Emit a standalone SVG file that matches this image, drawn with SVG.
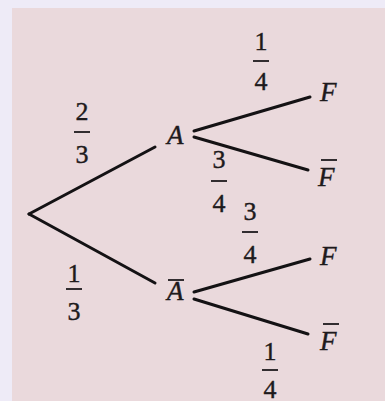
<svg xmlns="http://www.w3.org/2000/svg" width="385" height="401" viewBox="0 0 385 401">
<style>
.lbl{font-family:'Liberation Serif','DejaVu Serif',serif;font-style:italic;font-size:27px;fill:#1e1a1c;stroke:#1e1a1c;stroke-width:0.4}
.num{font-family:'Liberation Serif','DejaVu Serif',serif;font-size:26px;fill:#1e1a1c;text-anchor:middle;stroke:#1e1a1c;stroke-width:0.4}
.edge{stroke:#141214;stroke-width:3;fill:none;stroke-linecap:round}
.bar{stroke:#1e1a1c;stroke-width:1.8}
</style>
<rect x="0" y="0" width="385" height="401" fill="#eeebf7"/>
<rect x="12" y="8" width="373" height="393" fill="#ead9dc"/>
<g id="connectors">
<line class="edge" x1="29" y1="214" x2="155" y2="147"/>
<line class="edge" x1="29" y1="214" x2="155" y2="283"/>
<line class="edge" x1="194" y1="131" x2="310" y2="97"/>
<line class="edge" x1="194" y1="137" x2="308" y2="170"/>
<line class="edge" x1="194" y1="292" x2="310" y2="259"/>
<line class="edge" x1="194" y1="299" x2="308" y2="334"/>
</g>
<g id="node-A"><text class="lbl" x="167" y="144">A</text></g>
<g id="node-Abar"><text class="lbl" x="167" y="300">A</text><line class="bar" x1="168" y1="280" x2="184" y2="280"/></g>
<g id="node-F1"><text class="lbl" x="320" y="101">F</text></g>
<g id="node-Fbar1"><text class="lbl" x="318" y="186">F</text><line class="bar" x1="321" y1="160" x2="337" y2="160"/></g>
<g id="node-F2"><text class="lbl" x="320" y="265">F</text></g>
<g id="node-Fbar2"><text class="lbl" x="320" y="350">F</text><line class="bar" x1="323" y1="324" x2="339" y2="324"/></g>
<g id="p-2-3"><text class="num" x="82" y="120">2</text><line class="bar" x1="74" y1="132" x2="90" y2="132"/><text class="num" x="82" y="163">3</text></g>
<g id="p-1-3"><text class="num" x="74" y="282">1</text><line class="bar" x1="66" y1="289" x2="82" y2="289"/><text class="num" x="74" y="320">3</text></g>
<g id="p-1-4a"><text class="num" x="261" y="50">1</text><line class="bar" x1="253" y1="61" x2="269" y2="61"/><text class="num" x="261" y="90">4</text></g>
<g id="p-3-4a"><text class="num" x="219" y="168">3</text><line class="bar" x1="211" y1="181" x2="227" y2="181"/><text class="num" x="219" y="212">4</text></g>
<g id="p-3-4b"><text class="num" x="250" y="220">3</text><line class="bar" x1="242" y1="232" x2="258" y2="232"/><text class="num" x="250" y="263">4</text></g>
<g id="p-1-4b"><text class="num" x="270" y="360">1</text><line class="bar" x1="262" y1="370" x2="278" y2="370"/><text class="num" x="270" y="398">4</text></g>
</svg>
